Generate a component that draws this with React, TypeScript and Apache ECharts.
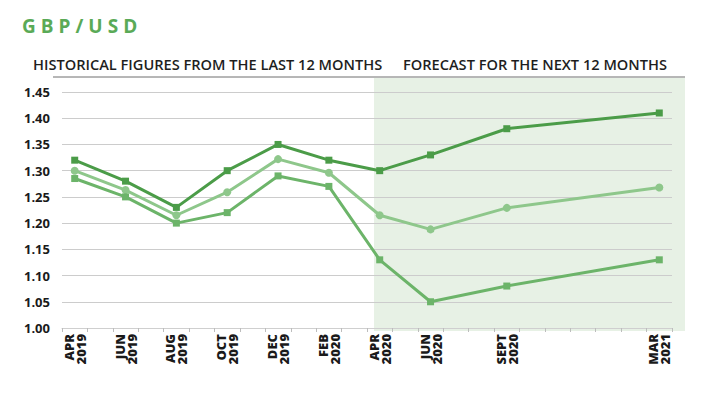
import React, { useEffect, useRef } from "react";
import * as echarts from "echarts";

const months: string[] = [
  "APR 2019", "MAY 2019", "JUN 2019", "JUL 2019", "AUG 2019", "SEP 2019",
  "OCT 2019", "NOV 2019", "DEC 2019", "JAN 2020", "FEB 2020", "MAR 2020",
  "APR 2020", "MAY 2020", "JUN 2020", "JUL 2020", "AUG 2020", "SEPT 2020",
  "OCT 2020", "NOV 2020", "DEC 2020", "JAN 2021", "FEB 2021", "MAR 2021",
];
const labelledMonths: string[] = [
  "APR 2019", "JUN 2019", "AUG 2019", "OCT 2019", "DEC 2019",
  "FEB 2020", "APR 2020", "JUN 2020", "SEPT 2020", "MAR 2021",
];
const highValues: number[] = [1.32, 1.28, 1.23, 1.30, 1.35, 1.32, 1.30, 1.33, 1.38, 1.41];
const midValues: number[] = [1.30, 1.263, 1.215, 1.259, 1.322, 1.296, 1.215, 1.188, 1.229, 1.268];
const lowValues: number[] = [1.285, 1.25, 1.20, 1.22, 1.29, 1.27, 1.13, 1.05, 1.08, 1.13];
const yTicks = { min: 1.0, max: 1.45, step: 0.05 };

function toSeries(vals: number[]): (number | null)[] {
  return months.map((m) => {
    const i = labelledMonths.indexOf(m);
    return i >= 0 ? vals[i] : null;
  });
}

export default function App() {
  const ref = useRef<HTMLDivElement>(null);
  useEffect(() => {
    if (!ref.current) return;
    const chart = echarts.init(ref.current, null, { renderer: "svg" });
    const font = "'Open Sans', sans-serif";
    const lineSeries = (name: string, vals: number[], color: string, symbol: string, size: number, z: number) => ({
      name,
      type: "line",
      data: toSeries(vals),
      connectNulls: true,
      symbol,
      symbolSize: size,
      z,
      lineStyle: { color, width: 3 },
      itemStyle: { color },
    });
    chart.setOption({
      animation: false,
      textStyle: { fontFamily: font },
      graphic: [
        {
          type: "rect",
          z: -10,
          silent: true,
          shape: { x: 374, y: 78, width: 311, height: 253 },
          style: { fill: "#e7f1e5" },
        },
        {
          type: "line",
          silent: true,
          shape: { x1: 53, y1: 77, x2: 685, y2: 77 },
          style: { stroke: "#6f6f6f", lineWidth: 1 },
        },
        {
          type: "text",
          left: 22,
          top: 16,
          style: {
            text: "GBP/USD",
            fill: "#5aaa57",
            font: `700 19px ${font}`,
          },
        },
        {
          type: "text",
          left: 33,
          top: 56,
          style: {
            text: "HISTORICAL FIGURES FROM THE LAST 12 MONTHS",
            fill: "#1e1e1e",
            font: `600 14.6px ${font}`,
          },
        },
        {
          type: "text",
          left: 403,
          top: 56,
          style: {
            text: "FORECAST FOR THE NEXT 12 MONTHS",
            fill: "#1e1e1e",
            font: `600 14.6px ${font}`,
          },
        },
      ],
      grid: { left: 62, right: 46, top: 92, bottom: 69, containLabel: false },
      xAxis: {
        type: "category",
        data: months,
        boundaryGap: true,
        axisLine: { show: true, lineStyle: { color: "#cfcfcf" } },
        axisTick: {
          show: true,
          alignWithLabel: false,
          interval: 0,
          length: 4,
          lineStyle: { color: "#bdbdbd" },
        },
        axisLabel: {
          interval: (idx: number, val: string) => labelledMonths.indexOf(val) >= 0,
          rotate: 90,
          margin: 6,
          formatter: (v: string) => v.replace(" ", "\n"),
          color: "#1a1a1a",
          fontWeight: 800,
          fontSize: 13,
          lineHeight: 12,
          fontFamily: font,
        },
        splitLine: { show: false },
      },
      yAxis: {
        type: "value",
        min: yTicks.min,
        max: yTicks.max,
        interval: yTicks.step,
        axisLine: { show: false },
        axisTick: { show: false },
        axisLabel: {
          margin: 12,
          color: "#1a1a1a",
          fontWeight: 700,
          fontSize: 13,
          fontFamily: font,
          formatter: (v: number) => v.toFixed(2),
        },
        splitLine: { show: true, lineStyle: { color: "#cccccc", width: 1 } },
      },
      series: [
        lineSeries("High", highValues, "#4b9c48", "rect", 7, 5),
        lineSeries("Mid", midValues, "#8ec78b", "circle", 8, 3),
        lineSeries("Low", lowValues, "#6cb469", "rect", 7, 4),
      ],
    });
    const svg = ref.current.querySelector("svg");
    if (svg) {
      svg.querySelectorAll("text").forEach((t) => {
        if (t.textContent === "GBP/USD") {
          t.setAttribute("letter-spacing", "5");
        }
      });
    }
    return () => chart.dispose();
  }, []);
  return <div ref={ref} style={{ width: 718, height: 397, position: "absolute", left: 0, top: 0 }} />;
}
